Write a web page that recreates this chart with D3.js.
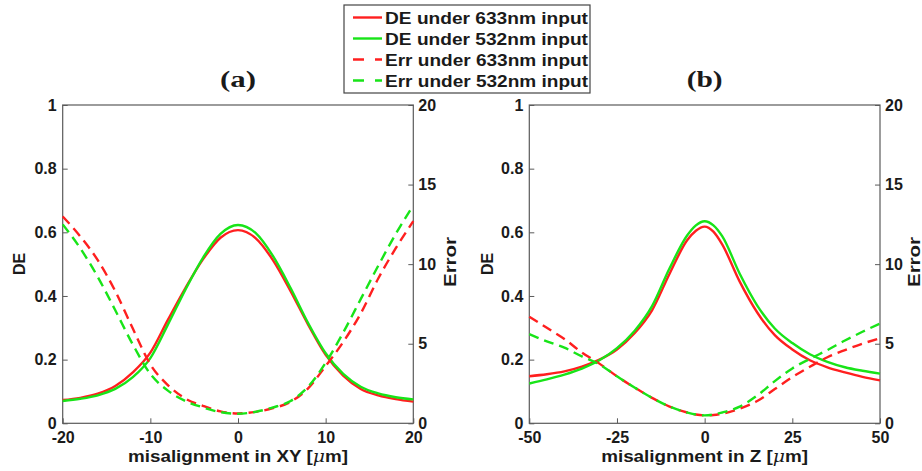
<!DOCTYPE html>
<html><head><meta charset="utf-8">
<script src="https://cdn.jsdelivr.net/npm/d3@7"></script>
<style>
body{margin:0;background:#fff}
svg{display:block}
text{font-family:"Liberation Sans",Arial,Helvetica,sans-serif;font-weight:bold;fill:#1a1a1a}
</style>
</head><body>
<svg id="c" width="922" height="471"></svg>
<script>
// ---------- data ----------
const xA = [-20,-18,-16,-14,-12,-10,-8,-6,-4,-2,0,2,4,6,8,10,12,14,16,18,20];
const deRedA   = [0.073,0.080,0.093,0.117,0.160,0.222,0.325,0.425,0.515,0.583,0.607,0.582,0.512,0.415,0.310,0.215,0.150,0.108,0.088,0.076,0.068];
const deGreenA = [0.070,0.077,0.088,0.108,0.145,0.205,0.310,0.420,0.520,0.595,0.623,0.598,0.525,0.425,0.315,0.220,0.155,0.115,0.094,0.082,0.075];
const errRedA   = [13.0,11.75,10.25,8.3,5.95,3.7,2.4,1.55,1.1,0.75,0.62,0.72,0.95,1.35,2.2,3.6,5.1,6.9,9.1,11.0,12.7];
const errGreenA = [12.5,11.0,9.2,7.1,4.95,3.1,2.05,1.4,1.0,0.7,0.6,0.72,1.0,1.4,2.3,3.8,5.7,7.8,9.9,11.9,13.7];

const xB = [-50,-45,-40,-35,-30,-25,-20,-15,-10,-5,-2.5,0,2.5,5,10,15,20,25,30,35,40,45,50];
const deRedB   = [0.148,0.154,0.163,0.178,0.200,0.232,0.283,0.355,0.470,0.575,0.605,0.618,0.602,0.562,0.445,0.348,0.277,0.232,0.198,0.176,0.160,0.146,0.135];
const deGreenB = [0.125,0.138,0.153,0.172,0.198,0.236,0.290,0.368,0.487,0.590,0.622,0.635,0.622,0.588,0.470,0.370,0.298,0.252,0.217,0.193,0.176,0.165,0.156];
const errRedB   = [6.7,6.0,5.3,4.45,3.75,2.95,2.25,1.6,1.05,0.68,0.55,0.5,0.52,0.6,0.92,1.4,2.15,2.9,3.55,4.15,4.6,5.0,5.35];
const errGreenB = [5.6,5.15,4.75,4.2,3.7,2.95,2.25,1.6,1.05,0.68,0.55,0.5,0.55,0.68,1.05,1.75,2.65,3.45,4.05,4.6,5.2,5.75,6.27];

const deTicks = [0,0.2,0.4,0.6,0.8,1];
const errTicks = [0,5,10,15,20];
const xTicksA = [-20,-10,0,10,20];
const xTicksB = [-50,-25,0,25,50];
const legendLabels = ["DE under 633nm input","DE under 532nm input","Err under 633nm input","Err under 532nm input"];

// ---------- style ----------
const RED = "#ff1f1f", GREEN = "#18e418", AXIS = "#5a5a5a";
const svg = d3.select("#c");

function fitText(sel, len){ sel.attr("textLength", len).attr("lengthAdjust","spacingAndGlyphs"); }

function panel(o){
  const x = d3.scaleLinear().domain(o.xDomain).range([o.x0,o.x1]);
  const yL = d3.scaleLinear().domain([0,1]).range([o.y1,o.y0]);
  const yR = d3.scaleLinear().domain([0,20]).range([o.y1,o.y0]);
  const g = svg.append("g");

  g.append("rect").attr("x",o.x0).attr("y",o.y0).attr("width",o.x1-o.x0).attr("height",o.y1-o.y0)
    .attr("fill","none").attr("stroke",AXIS).attr("stroke-width",1.2);

  const styleAxis = a => { a.select(".domain").remove(); a.selectAll(".tick line").attr("stroke",AXIS).attr("stroke-width",1);
    a.selectAll("text").style("font-family",'"Liberation Sans",Arial,sans-serif').style("font-weight","bold").style("font-size","16px").attr("fill","#1a1a1a"); };

  g.append("g").attr("transform",`translate(${o.x0},0)`)
    .call(d3.axisLeft(yL).tickValues(deTicks).tickFormat(d=>String(d)).tickSize(-5).tickPadding(6)).call(styleAxis);
  g.append("g").attr("transform",`translate(${o.x1},0)`)
    .call(d3.axisRight(yR).tickValues(errTicks).tickFormat(d=>String(d)).tickSize(-5).tickPadding(5)).call(styleAxis);
  g.append("g").attr("transform",`translate(0,${o.y1})`)
    .call(d3.axisBottom(x).tickValues(o.xTicks).tickFormat(d=>String(d)).tickSize(-5).tickPadding(8)).call(styleAxis);

  const line = (xs, ys, yS) => d3.line().x((d,i)=>x(xs[i])).y(d=>yS(d)).curve(d3.curveMonotoneX)(ys);
  const series = [
    {v:o.deRed, s:yL, c:RED, dash:null},
    {v:o.deGreen, s:yL, c:GREEN, dash:null},
    {v:o.errRed, s:yR, c:RED, dash:"10,6"},
    {v:o.errGreen, s:yR, c:GREEN, dash:"10,6"}
  ];
  series.forEach(sr => {
    g.append("path").attr("d", line(o.xs, sr.v, sr.s)).attr("fill","none")
      .attr("stroke", sr.c).attr("stroke-width", 2.4).attr("stroke-dasharray", sr.dash);
  });

  g.append("text").attr("transform",`translate(${o.deX},264) rotate(-90)`).attr("text-anchor","middle")
    .style("font-size","16px").text("DE");
  g.append("text").attr("transform",`translate(${o.errX},262) rotate(-90)`).attr("text-anchor","middle")
    .style("font-size","16px").text("Error").call(fitText, 50);
  const xl = g.append("text").attr("x",(o.x0+o.x1)/2).attr("y",462).attr("text-anchor","middle").style("font-size","16px");
  xl.append("tspan").text(o.xLabel + " [");
  xl.append("tspan").style("font-weight","normal").style("font-style","italic").style("font-family",'"DejaVu Serif",serif').text("\u03bc");
  xl.append("tspan").text("m]");
  fitText(xl, o.xLabelLen);
  svg.append("text").attr("x",(o.x0+o.x1)/2).attr("y",87).attr("text-anchor","middle")
    .style("font-family",'"Liberation Serif","Times New Roman",serif').style("font-size","24px").style("font-weight","bold")
    .attr("fill","#000").text(o.title).call(fitText, 36);
}

panel({xDomain:[-20,20], xTicks:xTicksA, x0:62.7, x1:413.3, y0:105, y1:423.3,
  xs:xA, deRed:deRedA, deGreen:deGreenA, errRed:errRedA, errGreen:errGreenA,
  deX:25, errX:456, xLabel:"misalignment in XY", xLabelLen:220, title:"(a)"});
panel({xDomain:[-50,50], xTicks:xTicksB, x0:529.3, x1:880, y0:105, y1:423.3,
  xs:xB, deRed:deRedB, deGreen:deGreenB, errRed:errRedB, errGreen:errGreenB,
  deX:493, errX:920, xLabel:"misalignment in Z", xLabelLen:207, title:"(b)"});

// legend
const lg = svg.append("g");
lg.append("rect").attr("x",344).attr("y",5).attr("width",246).attr("height",88)
  .attr("fill","#fff").attr("stroke","#444").attr("stroke-width",1.2);
const legCols = [RED, GREEN, RED, GREEN];
const legDash = [null, null, "11,11", "11,11"];
legendLabels.forEach((t,i) => {
  const cy = 17.5 + i*21;
  lg.append("line").attr("x1",353).attr("x2",382).attr("y1",cy).attr("y2",cy)
    .attr("stroke",legCols[i]).attr("stroke-width",2.4).attr("stroke-dasharray",legDash[i]);
  lg.append("text").attr("x",385).attr("y",cy+6).style("font-size","17px").text(t).call(fitText, 203);
});
</script>
</body></html>
